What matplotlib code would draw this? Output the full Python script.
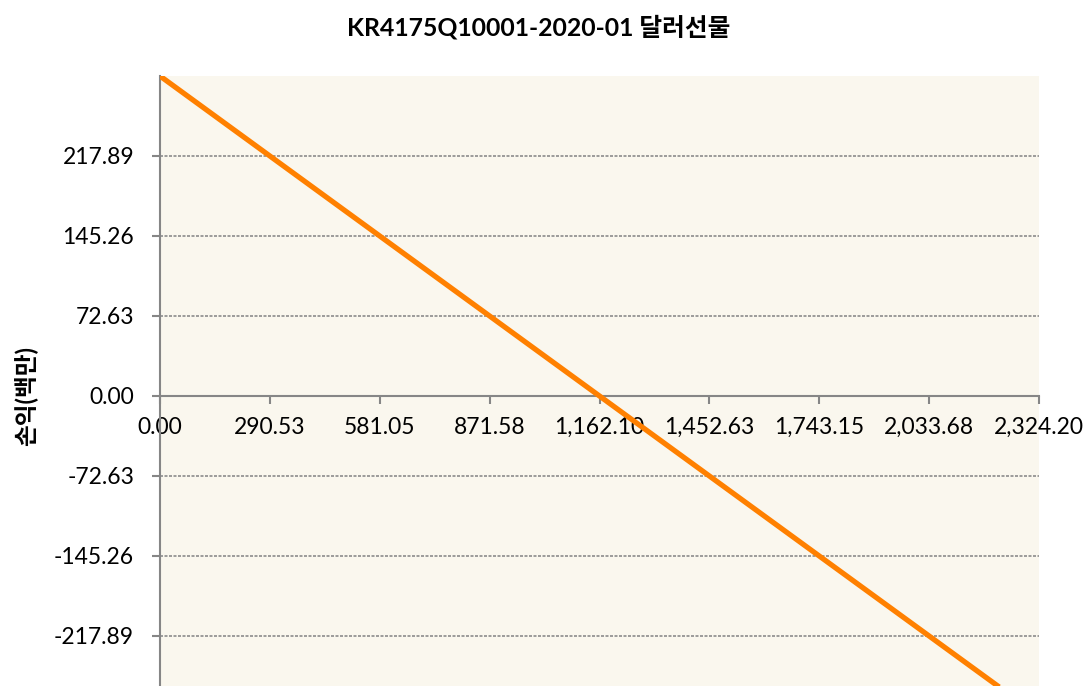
import matplotlib
matplotlib.use("Agg")
import matplotlib.pyplot as plt

# data
prices = [0.00, 1162.10, 2324.20]
pnl = [290.52, 0.00, -290.52]

xticks = [0.00, 290.53, 581.05, 871.58, 1162.10, 1452.63, 1743.15, 2033.68, 2324.20]
xlabels = ['0.00', '290.53', '581.05', '871.58', '1,162.10', '1,452.63',
           '1,743.15', '2,033.68', '2,324.20']
yticks = [-217.89, -145.26, -72.63, 0.00, 72.63, 145.26, 217.89]
ylabels = ['-217.89', '-145.26', '-72.63', '0.00', '72.63', '145.26', '217.89']

title = 'KR4175Q10001-2020-01 달러선물'
ytitle = '손익(백만)'

plt.rcParams['font.family'] = ['Lato', 'Noto Sans CJK KR', 'DejaVu Sans']

W, H = 1092, 686
fig = plt.figure(figsize=(W / 100, H / 100), dpi=100)
fig.patch.set_facecolor('white')

# plot area runs past the bottom edge of the image, like the original
left, right, top, bottom = 160, 1039, 76, 716
ax = fig.add_axes([left / W, (H - bottom) / H, (right - left) / W, (bottom - top) / H])
ax.set_facecolor('#faf7ee')

ax.plot(prices, pnl, color='#ff8000', linewidth=3.8, solid_capstyle='butt', zorder=3)

ax.set_xlim(0, 2324.20)
ax.set_ylim(-290.52, 290.52)

ax.set_xticks(xticks)
ax.set_xticklabels(xlabels)
ax.set_yticks(yticks)
ax.set_yticklabels(ylabels)

# dashed gridlines at every y tick
for y in yticks:
    if y != 0:
        ax.axhline(y, color='#8c8c8c', linewidth=1.2, dashes=(1.8, 0.9), zorder=1)

for s in ['top', 'right']:
    ax.spines[s].set_visible(False)
ax.spines['bottom'].set_position(('data', 0))
for s in ['left', 'bottom']:
    ax.spines[s].set_color('#868686')
    ax.spines[s].set_linewidth(1.5)
    ax.spines[s].set_zorder(2)

ax.tick_params(axis='x', direction='out', length=6, width=1.5, color='#868686',
               labelsize=16.5, pad=9, labelcolor='black')
ax.tick_params(axis='y', direction='out', length=6, width=1.5, color='#868686',
               labelsize=16.5, pad=12.7, labelcolor='black')

fig.text(539 / W, 1 - 27 / H, title, ha='center', va='center',
         fontsize=17.8, fontweight='bold')
fig.text(25 / W, 1 - 396 / H, ytitle, ha='center', va='center', rotation=90,
         fontsize=17, fontweight='bold')

fig.savefig('out.png', dpi=100)
